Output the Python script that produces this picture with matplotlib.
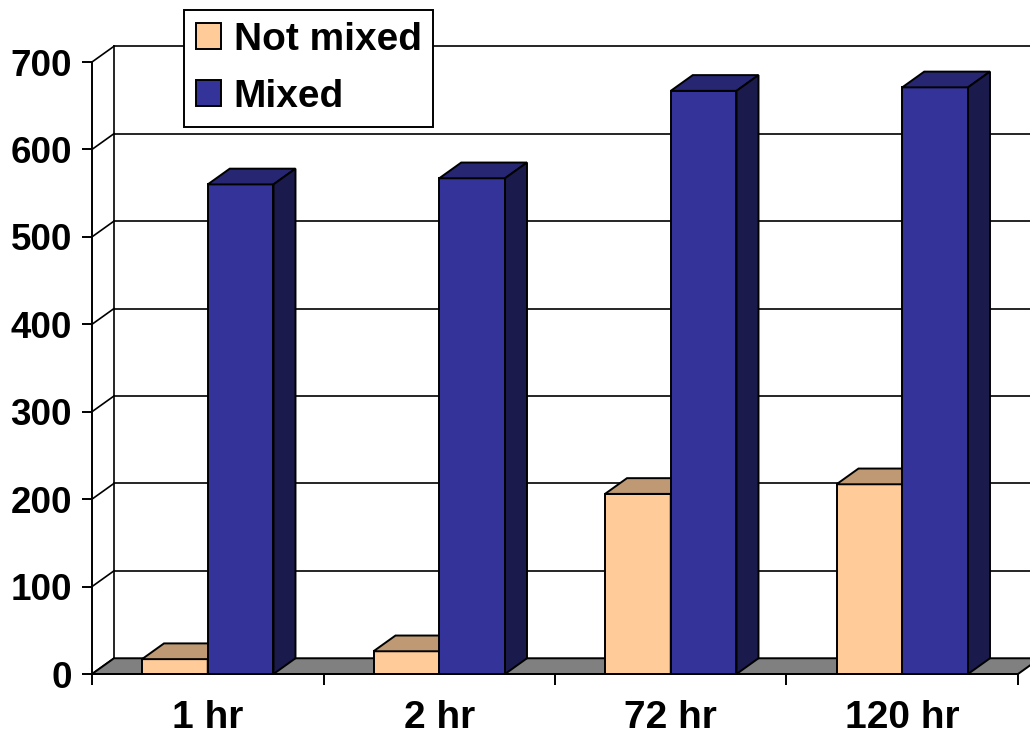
import matplotlib
matplotlib.use("Agg")
import matplotlib.pyplot as plt
from matplotlib.patches import Polygon, Patch
import numpy as np

# data
categories = ["1 hr", "2 hr", "72 hr", "120 hr"]
not_mixed = [17, 26, 206, 217]
mixed = [560, 567, 667, 671]
series_names = ["Not mixed", "Mixed"]

yticks = [0, 100, 200, 300, 400, 500, 600, 700]

# colours: front, top, side
c_not = ("#FFCC99", "#BF9973", "#80664D")
c_mix = ("#333399", "#262673", "#1A1A4D")

plt.rcParams["font.family"] = ["Liberation Sans", "DejaVu Sans"]
plt.rcParams["font.weight"] = "bold"

fig = plt.figure(figsize=(10.3, 7.35), dpi=100)
ax = fig.add_axes([92 / 1030, 61 / 735, 926 / 1030, 612 / 735])
ax.set_xlim(0, len(categories))
ax.set_ylim(0, 700)

# depth offset of the 3d look, in data units
dx = 0.095
dy = 18.0

lw = 1.4

# back wall gridlines, side wall diagonals and left back edge
for v in yticks:
    ax.plot([0, dx], [v, v + dy], color="black", lw=1.2, zorder=1, clip_on=False)
    if v > 0:
        ax.plot([dx, len(categories) + dx + 0.2], [v + dy, v + dy], color="black",
                lw=1.2, zorder=1, clip_on=False)
ax.plot([dx, dx], [dy, 700 + dy], color="black", lw=1.2, zorder=1, clip_on=False)

# floor
n = len(categories)
floor = Polygon([(0, 0), (n, 0), (n + dx, dy), (dx, dy)], closed=True,
                facecolor="#808080", edgecolor="black", lw=lw, zorder=2, clip_on=False)
ax.add_patch(floor)

width = 0.284
x = np.arange(n)


def bar3d(xpos, vals, cols, z):
    bars = ax.bar(xpos, vals, width, align="edge", color=cols[0],
                  edgecolor="black", linewidth=lw, zorder=z)
    for b in bars:
        x0 = b.get_x()
        x1 = x0 + b.get_width()
        h = b.get_height()
        top = Polygon([(x0, h), (x1, h), (x1 + dx, h + dy), (x0 + dx, h + dy)],
                      closed=True, facecolor=cols[1], edgecolor="black", lw=lw,
                      zorder=z, clip_on=False)
        side = Polygon([(x1, 0), (x1 + dx, dy), (x1 + dx, h + dy), (x1, h)],
                       closed=True, facecolor=cols[2], edgecolor="black", lw=lw,
                       zorder=z, clip_on=False)
        ax.add_patch(top)
        ax.add_patch(side)


bar3d(x + 0.5 - width, not_mixed, c_not, 3)
bar3d(x + 0.5, mixed, c_mix, 4)

# axes
for s in ["top", "right"]:
    ax.spines[s].set_visible(False)
ax.spines["left"].set_linewidth(lw)
ax.spines["bottom"].set_linewidth(lw)
ax.spines["bottom"].set_zorder(5)

ax.set_yticks(yticks)
ax.set_yticklabels([str(v) for v in yticks])
ax.tick_params(axis="y", length=7.5, width=lw, pad=7, labelsize=26.5)

ax.set_xticks(np.arange(n + 1))
ax.set_xticklabels([])
ax.set_xticks(x + 0.5, minor=True)
ax.set_xticklabels(categories, minor=True)
ax.tick_params(axis="x", which="major", length=8, width=lw)
ax.tick_params(axis="x", which="minor", length=0, pad=19, labelsize=28)

handles = [Patch(facecolor=c_not[0], edgecolor="black", lw=lw),
           Patch(facecolor=c_mix[0], edgecolor="black", lw=lw)]
leg = fig.legend(handles, series_names, loc="upper left",
                 bbox_to_anchor=(184 / 1030, 1 - 10 / 735), borderaxespad=0,
                 fancybox=False, framealpha=1, edgecolor="black",
                 prop={"size": 28, "weight": "bold"},
                 handlelength=0.65, handleheight=0.65, handletextpad=0.33,
                 borderpad=0.3, labelspacing=0.55)
leg.get_frame().set_linewidth(lw)
leg.set_zorder(10)

fig.savefig("out.png", dpi=100)
